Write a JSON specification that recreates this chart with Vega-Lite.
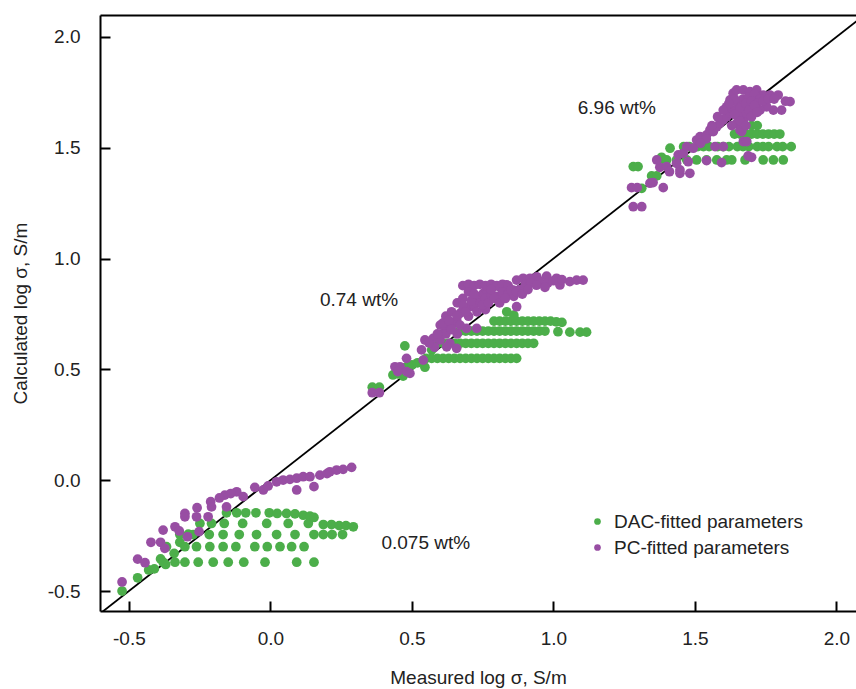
{
  "$schema": "https://vega.github.io/schema/vega-lite/v6.json",
  "width": 756,
  "height": 596,
  "autosize": {"type": "none"},
  "padding": {"left": 100, "top": 15, "right": 0, "bottom": 78},
  "background": "white",
  "config": {
    "view": {"stroke": null},
    "axis": {
      "grid": false,
      "domainColor": "black", "domainWidth": 2,
      "tickColor": "black", "tickWidth": 2, "tickSize": -10,
      "labelFont": "Liberation Sans", "labelFontSize": 19, "labelColor": "#222",
      "labelPadding": 28, "labelFlush": false,
      "titleFont": "Liberation Sans", "titleFontSize": 19, "titleFontWeight": "normal", "titleColor": "#222"
    },
    "legend": {
      "labelFont": "Liberation Sans", "labelFontSize": 19, "labelColor": "#222", "labelLimit": 0
    }
  },
  "datasets": {
    "pts": [
      {"x":-0.524,"y":-0.50,"s":"D"},{"x":-0.469,"y":-0.44,"s":"D"},{"x":-0.43,"y":-0.405,"s":"D"},{"x":-0.41,"y":-0.40,"s":"D"},{"x":-0.388,"y":-0.355,"s":"D"},{"x":-0.37,"y":-0.38,"s":"D"},{"x":-0.34,"y":-0.33,"s":"D"},{"x":-0.32,"y":-0.28,"s":"D"},{"x":-0.29,"y":-0.243,"s":"D"},
      {"x":-0.379,"y":-0.37,"s":"D"},{"x":-0.337,"y":-0.37,"s":"D"},{"x":-0.302,"y":-0.37,"s":"D"},{"x":-0.255,"y":-0.37,"s":"D"},{"x":-0.202,"y":-0.37,"s":"D"},{"x":-0.149,"y":-0.37,"s":"D"},{"x":-0.094,"y":-0.37,"s":"D"},{"x":-0.019,"y":-0.37,"s":"D"},{"x":0.093,"y":-0.37,"s":"D"},{"x":0.154,"y":-0.37,"s":"D"},
      {"x":-0.367,"y":-0.30,"s":"D"},{"x":-0.302,"y":-0.30,"s":"D"},{"x":-0.261,"y":-0.30,"s":"D"},{"x":-0.214,"y":-0.30,"s":"D"},{"x":-0.167,"y":-0.30,"s":"D"},{"x":-0.122,"y":-0.30,"s":"D"},{"x":-0.055,"y":-0.30,"s":"D"},{"x":-0.011,"y":-0.30,"s":"D"},{"x":0.034,"y":-0.30,"s":"D"},{"x":0.075,"y":-0.30,"s":"D"},{"x":0.119,"y":-0.30,"s":"D"},
      {"x":-0.32,"y":-0.245,"s":"D"},{"x":-0.273,"y":-0.245,"s":"D"},{"x":-0.216,"y":-0.245,"s":"D"},{"x":-0.167,"y":-0.245,"s":"D"},{"x":-0.110,"y":-0.245,"s":"D"},{"x":-0.049,"y":-0.245,"s":"D"},{"x":0.022,"y":-0.245,"s":"D"},{"x":0.087,"y":-0.245,"s":"D"},{"x":0.154,"y":-0.245,"s":"D"},{"x":0.187,"y":-0.245,"s":"D"},{"x":0.218,"y":-0.245,"s":"D"},{"x":0.255,"y":-0.245,"s":"D"},
      {"x":-0.249,"y":-0.195,"s":"D"},{"x":-0.208,"y":-0.195,"s":"D"},{"x":-0.163,"y":-0.195,"s":"D"},{"x":-0.098,"y":-0.195,"s":"D"},{"x":-0.013,"y":-0.195,"s":"D"},{"x":0.063,"y":-0.195,"s":"D"},{"x":0.134,"y":-0.195,"s":"D"},{"x":0.187,"y":-0.20,"s":"D"},{"x":0.216,"y":-0.20,"s":"D"},{"x":0.243,"y":-0.205,"s":"D"},{"x":0.267,"y":-0.205,"s":"D"},{"x":0.293,"y":-0.21,"s":"D"},
      {"x":-0.155,"y":-0.147,"s":"D"},{"x":-0.119,"y":-0.147,"s":"D"},{"x":-0.087,"y":-0.147,"s":"D"},{"x":-0.051,"y":-0.147,"s":"D"},{"x":-0.004,"y":-0.147,"s":"D"},{"x":0.024,"y":-0.15,"s":"D"},{"x":0.057,"y":-0.15,"s":"D"},{"x":0.087,"y":-0.152,"s":"D"},{"x":0.116,"y":-0.158,"s":"D"},{"x":0.140,"y":-0.162,"s":"D"},{"x":0.154,"y":-0.168,"s":"D"},

      {"x":0.36,"y":0.42,"s":"D"},{"x":0.385,"y":0.42,"s":"D"},{"x":0.433,"y":0.475,"s":"D"},{"x":0.469,"y":0.47,"s":"D"},{"x":0.45,"y":0.48,"s":"D"},{"x":0.475,"y":0.606,"s":"D"},{"x":0.481,"y":0.512,"s":"D"},{"x":0.54,"y":0.54,"s":"D"},{"x":0.546,"y":0.51,"s":"D"},{"x":0.57,"y":0.588,"s":"D"},{"x":0.50,"y":0.52,"s":"D"},{"x":0.52,"y":0.53,"s":"D"},
      {"x":0.55,"y":0.55,"s":"D"},{"x":0.57,"y":0.55,"s":"D"},{"x":0.59,"y":0.55,"s":"D"},{"x":0.61,"y":0.55,"s":"D"},{"x":0.63,"y":0.55,"s":"D"},{"x":0.65,"y":0.55,"s":"D"},{"x":0.67,"y":0.55,"s":"D"},{"x":0.69,"y":0.55,"s":"D"},{"x":0.71,"y":0.55,"s":"D"},{"x":0.73,"y":0.55,"s":"D"},{"x":0.75,"y":0.55,"s":"D"},{"x":0.77,"y":0.55,"s":"D"},{"x":0.79,"y":0.55,"s":"D"},{"x":0.81,"y":0.55,"s":"D"},{"x":0.83,"y":0.55,"s":"D"},{"x":0.85,"y":0.55,"s":"D"},{"x":0.87,"y":0.55,"s":"D"},
      {"x":0.57,"y":0.618,"s":"D"},{"x":0.59,"y":0.618,"s":"D"},{"x":0.61,"y":0.618,"s":"D"},{"x":0.63,"y":0.618,"s":"D"},{"x":0.65,"y":0.618,"s":"D"},{"x":0.67,"y":0.618,"s":"D"},{"x":0.69,"y":0.618,"s":"D"},{"x":0.71,"y":0.618,"s":"D"},{"x":0.73,"y":0.618,"s":"D"},{"x":0.75,"y":0.618,"s":"D"},{"x":0.77,"y":0.618,"s":"D"},{"x":0.79,"y":0.618,"s":"D"},{"x":0.81,"y":0.618,"s":"D"},{"x":0.83,"y":0.618,"s":"D"},{"x":0.85,"y":0.618,"s":"D"},{"x":0.87,"y":0.618,"s":"D"},{"x":0.89,"y":0.618,"s":"D"},{"x":0.91,"y":0.618,"s":"D"},{"x":0.93,"y":0.618,"s":"D"},
      {"x":0.67,"y":0.673,"s":"D"},{"x":0.69,"y":0.673,"s":"D"},{"x":0.71,"y":0.673,"s":"D"},{"x":0.73,"y":0.673,"s":"D"},{"x":0.75,"y":0.673,"s":"D"},{"x":0.77,"y":0.673,"s":"D"},{"x":0.79,"y":0.673,"s":"D"},{"x":0.81,"y":0.673,"s":"D"},{"x":0.83,"y":0.673,"s":"D"},{"x":0.85,"y":0.673,"s":"D"},{"x":0.87,"y":0.673,"s":"D"},{"x":0.89,"y":0.673,"s":"D"},{"x":0.91,"y":0.673,"s":"D"},{"x":0.93,"y":0.673,"s":"D"},{"x":0.95,"y":0.673,"s":"D"},{"x":0.97,"y":0.673,"s":"D"},{"x":1.016,"y":0.67,"s":"D"},{"x":1.058,"y":0.668,"s":"D"},{"x":1.094,"y":0.668,"s":"D"},{"x":1.117,"y":0.668,"s":"D"},
      {"x":0.79,"y":0.718,"s":"D"},{"x":0.81,"y":0.718,"s":"D"},{"x":0.83,"y":0.718,"s":"D"},{"x":0.85,"y":0.718,"s":"D"},{"x":0.87,"y":0.718,"s":"D"},{"x":0.89,"y":0.718,"s":"D"},{"x":0.91,"y":0.718,"s":"D"},{"x":0.93,"y":0.718,"s":"D"},{"x":0.95,"y":0.718,"s":"D"},{"x":0.97,"y":0.718,"s":"D"},{"x":0.99,"y":0.718,"s":"D"},{"x":1.01,"y":0.715,"s":"D"},{"x":1.03,"y":0.712,"s":"D"},
      {"x":0.835,"y":0.76,"s":"D"},{"x":0.86,"y":0.745,"s":"D"},

      {"x":1.282,"y":1.415,"s":"D"},{"x":1.299,"y":1.415,"s":"D"},{"x":1.347,"y":1.373,"s":"D"},{"x":1.365,"y":1.373,"s":"D"},{"x":1.312,"y":1.317,"s":"D"},{"x":1.412,"y":1.498,"s":"D"},{"x":1.382,"y":1.457,"s":"D"},
      {"x":1.376,"y":1.445,"s":"D"},{"x":1.40,"y":1.445,"s":"D"},{"x":1.435,"y":1.445,"s":"D"},{"x":1.471,"y":1.445,"s":"D"},{"x":1.506,"y":1.445,"s":"D"},{"x":1.541,"y":1.445,"s":"D"},{"x":1.577,"y":1.445,"s":"D"},{"x":1.612,"y":1.445,"s":"D"},{"x":1.63,"y":1.445,"s":"D"},{"x":1.677,"y":1.445,"s":"D"},{"x":1.741,"y":1.445,"s":"D"},{"x":1.777,"y":1.445,"s":"D"},{"x":1.812,"y":1.445,"s":"D"},
      {"x":1.46,"y":1.505,"s":"D"},{"x":1.48,"y":1.505,"s":"D"},{"x":1.51,"y":1.505,"s":"D"},{"x":1.53,"y":1.505,"s":"D"},{"x":1.55,"y":1.505,"s":"D"},{"x":1.58,"y":1.505,"s":"D"},{"x":1.60,"y":1.505,"s":"D"},{"x":1.62,"y":1.505,"s":"D"},{"x":1.65,"y":1.505,"s":"D"},{"x":1.67,"y":1.505,"s":"D"},{"x":1.69,"y":1.505,"s":"D"},{"x":1.72,"y":1.505,"s":"D"},{"x":1.74,"y":1.505,"s":"D"},{"x":1.76,"y":1.505,"s":"D"},{"x":1.79,"y":1.505,"s":"D"},{"x":1.81,"y":1.505,"s":"D"},{"x":1.84,"y":1.505,"s":"D"},
      {"x":1.64,"y":1.562,"s":"D"},{"x":1.66,"y":1.562,"s":"D"},{"x":1.68,"y":1.562,"s":"D"},{"x":1.70,"y":1.562,"s":"D"},{"x":1.72,"y":1.562,"s":"D"},{"x":1.74,"y":1.562,"s":"D"},{"x":1.76,"y":1.562,"s":"D"},{"x":1.78,"y":1.562,"s":"D"},{"x":1.80,"y":1.562,"s":"D"},
      {"x":1.70,"y":1.60,"s":"D"},{"x":1.72,"y":1.60,"s":"D"},

      {"x":-0.524,"y":-0.459,"s":"P"},{"x":-0.469,"y":-0.356,"s":"P"},{"x":-0.443,"y":-0.372,"s":"P"},{"x":-0.422,"y":-0.28,"s":"P"},{"x":-0.388,"y":-0.28,"s":"P"},{"x":-0.373,"y":-0.307,"s":"P"},{"x":-0.379,"y":-0.225,"s":"P"},{"x":-0.337,"y":-0.21,"s":"P"},{"x":-0.322,"y":-0.229,"s":"P"},{"x":-0.302,"y":-0.15,"s":"P"},{"x":-0.302,"y":-0.165,"s":"P"},{"x":-0.293,"y":-0.255,"s":"P"},{"x":-0.259,"y":-0.124,"s":"P"},{"x":-0.261,"y":-0.165,"s":"P"},{"x":-0.252,"y":-0.232,"s":"P"},{"x":-0.211,"y":-0.097,"s":"P"},{"x":-0.220,"y":-0.165,"s":"P"},{"x":-0.208,"y":-0.12,"s":"P"},{"x":-0.161,"y":-0.067,"s":"P"},{"x":-0.155,"y":-0.12,"s":"P"},{"x":-0.119,"y":-0.052,"s":"P"},{"x":-0.096,"y":-0.074,"s":"P"},{"x":-0.18,"y":-0.08,"s":"P"},{"x":-0.14,"y":-0.06,"s":"P"},{"x":-0.055,"y":-0.032,"s":"P"},{"x":-0.025,"y":-0.044,"s":"P"},{"x":-0.008,"y":-0.026,"s":"P"},{"x":0.022,"y":-0.007,"s":"P"},{"x":0.045,"y":0.001,"s":"P"},{"x":0.069,"y":0.004,"s":"P"},{"x":0.093,"y":0.009,"s":"P"},{"x":0.093,"y":-0.044,"s":"P"},{"x":0.116,"y":0.016,"s":"P"},{"x":0.140,"y":0.016,"s":"P"},{"x":0.154,"y":-0.029,"s":"P"},{"x":0.175,"y":0.023,"s":"P"},{"x":0.20,"y":0.03,"s":"P"},{"x":0.210,"y":0.038,"s":"P"},{"x":0.234,"y":0.046,"s":"P"},{"x":0.257,"y":0.049,"s":"P"},{"x":0.287,"y":0.058,"s":"P"},

      {"x":0.36,"y":0.395,"s":"P"},{"x":0.385,"y":0.395,"s":"P"},{"x":0.44,"y":0.512,"s":"P"},{"x":0.458,"y":0.512,"s":"P"},{"x":0.481,"y":0.49,"s":"P"},{"x":0.493,"y":0.482,"s":"P"},{"x":0.45,"y":0.49,"s":"P"},{"x":0.481,"y":0.55,"s":"P"},{"x":0.534,"y":0.588,"s":"P"},{"x":0.546,"y":0.633,"s":"P"},{"x":0.54,"y":0.542,"s":"P"},
      {"x":0.575,"y":0.640,"s":"P"},{"x":0.599,"y":0.633,"s":"P"},{"x":0.611,"y":0.663,"s":"P"},{"x":0.623,"y":0.693,"s":"P"},{"x":0.634,"y":0.618,"s":"P"},{"x":0.646,"y":0.708,"s":"P"},{"x":0.658,"y":0.723,"s":"P"},{"x":0.670,"y":0.753,"s":"P"},{"x":0.681,"y":0.768,"s":"P"},{"x":0.705,"y":0.783,"s":"P"},{"x":0.717,"y":0.813,"s":"P"},{"x":0.740,"y":0.828,"s":"P"},{"x":0.752,"y":0.843,"s":"P"},{"x":0.764,"y":0.858,"s":"P"},{"x":0.787,"y":0.873,"s":"P"},{"x":0.811,"y":0.873,"s":"P"},{"x":0.835,"y":0.881,"s":"P"},{"x":0.858,"y":0.858,"s":"P"},{"x":0.870,"y":0.903,"s":"P"},{"x":0.893,"y":0.911,"s":"P"},{"x":0.917,"y":0.911,"s":"P"},{"x":0.941,"y":0.918,"s":"P"},{"x":0.976,"y":0.921,"s":"P"},{"x":1.011,"y":0.911,"s":"P"},{"x":1.023,"y":0.881,"s":"P"},{"x":1.058,"y":0.896,"s":"P"},{"x":1.082,"y":0.903,"s":"P"},{"x":1.105,"y":0.903,"s":"P"},
      {"x":0.68,"y":0.878,"s":"P"},{"x":0.70,"y":0.884,"s":"P"},{"x":0.72,"y":0.878,"s":"P"},{"x":0.74,"y":0.884,"s":"P"},{"x":0.76,"y":0.878,"s":"P"},{"x":0.78,"y":0.884,"s":"P"},{"x":0.80,"y":0.878,"s":"P"},{"x":0.82,"y":0.884,"s":"P"},{"x":0.84,"y":0.878,"s":"P"},
      {"x":0.60,"y":0.70,"s":"P"},{"x":0.62,"y":0.74,"s":"P"},{"x":0.64,"y":0.76,"s":"P"},{"x":0.66,"y":0.80,"s":"P"},{"x":0.68,"y":0.82,"s":"P"},{"x":0.70,"y":0.85,"s":"P"},{"x":0.72,"y":0.79,"s":"P"},{"x":0.74,"y":0.80,"s":"P"},{"x":0.76,"y":0.82,"s":"P"},{"x":0.78,"y":0.84,"s":"P"},{"x":0.80,"y":0.83,"s":"P"},{"x":0.82,"y":0.85,"s":"P"},{"x":0.84,"y":0.84,"s":"P"},{"x":0.86,"y":0.83,"s":"P"},{"x":0.88,"y":0.86,"s":"P"},{"x":0.90,"y":0.88,"s":"P"},{"x":0.92,"y":0.89,"s":"P"},{"x":0.95,"y":0.90,"s":"P"},{"x":0.98,"y":0.89,"s":"P"},{"x":1.00,"y":0.90,"s":"P"},{"x":1.03,"y":0.905,"s":"P"},
      {"x":0.693,"y":0.685,"s":"P"},{"x":0.729,"y":0.685,"s":"P"},{"x":0.623,"y":0.602,"s":"P"},{"x":0.658,"y":0.595,"s":"P"},{"x":0.87,"y":0.783,"s":"P"},{"x":0.70,"y":0.74,"s":"P"},{"x":0.76,"y":0.77,"s":"P"},{"x":0.66,"y":0.66,"s":"P"},{"x":0.58,"y":0.60,"s":"P"},{"x":0.62,"y":0.66,"s":"P"},
      {"x":0.56,"y":0.62,"s":"P"},{"x":0.59,"y":0.66,"s":"P"},{"x":0.61,"y":0.71,"s":"P"},{"x":0.63,"y":0.72,"s":"P"},{"x":0.64,"y":0.68,"s":"P"},{"x":0.66,"y":0.74,"s":"P"},{"x":0.67,"y":0.70,"s":"P"},{"x":0.68,"y":0.79,"s":"P"},{"x":0.69,"y":0.76,"s":"P"},{"x":0.71,"y":0.81,"s":"P"},{"x":0.72,"y":0.84,"s":"P"},{"x":0.73,"y":0.76,"s":"P"},{"x":0.75,"y":0.79,"s":"P"},{"x":0.77,"y":0.80,"s":"P"},{"x":0.78,"y":0.86,"s":"P"},{"x":0.79,"y":0.82,"s":"P"},{"x":0.81,"y":0.80,"s":"P"},{"x":0.83,"y":0.82,"s":"P"},{"x":0.85,"y":0.86,"s":"P"},{"x":0.87,"y":0.85,"s":"P"},{"x":0.89,"y":0.84,"s":"P"},{"x":0.91,"y":0.86,"s":"P"},{"x":0.94,"y":0.88,"s":"P"},{"x":0.97,"y":0.87,"s":"P"},

      {"x":1.282,"y":1.234,"s":"P"},{"x":1.312,"y":1.234,"s":"P"},{"x":1.276,"y":1.32,"s":"P"},{"x":1.296,"y":1.32,"s":"P"},{"x":1.341,"y":1.34,"s":"P"},{"x":1.352,"y":1.343,"s":"P"},{"x":1.388,"y":1.32,"s":"P"},{"x":1.376,"y":1.412,"s":"P"},{"x":1.40,"y":1.415,"s":"P"},{"x":1.41,"y":1.392,"s":"P"},{"x":1.447,"y":1.385,"s":"P"},{"x":1.482,"y":1.385,"s":"P"},{"x":1.365,"y":1.445,"s":"P"},{"x":1.447,"y":1.40,"s":"P"},{"x":1.435,"y":1.43,"s":"P"},{"x":1.476,"y":1.437,"s":"P"},
      {"x":1.441,"y":1.468,"s":"P"},{"x":1.459,"y":1.475,"s":"P"},{"x":1.471,"y":1.505,"s":"P"},{"x":1.494,"y":1.498,"s":"P"},{"x":1.506,"y":1.535,"s":"P"},{"x":1.518,"y":1.55,"s":"P"},{"x":1.541,"y":1.558,"s":"P"},{"x":1.553,"y":1.58,"s":"P"},{"x":1.565,"y":1.573,"s":"P"},{"x":1.577,"y":1.595,"s":"P"},{"x":1.588,"y":1.61,"s":"P"},{"x":1.60,"y":1.625,"s":"P"},{"x":1.612,"y":1.64,"s":"P"},{"x":1.624,"y":1.656,"s":"P"},{"x":1.635,"y":1.67,"s":"P"},{"x":1.612,"y":1.685,"s":"P"},{"x":1.624,"y":1.716,"s":"P"},{"x":1.635,"y":1.746,"s":"P"},{"x":1.647,"y":1.761,"s":"P"},{"x":1.671,"y":1.761,"s":"P"},{"x":1.694,"y":1.753,"s":"P"},{"x":1.718,"y":1.761,"s":"P"},
      {"x":1.741,"y":1.738,"s":"P"},{"x":1.765,"y":1.738,"s":"P"},{"x":1.794,"y":1.738,"s":"P"},{"x":1.836,"y":1.708,"s":"P"},{"x":1.806,"y":1.67,"s":"P"},{"x":1.777,"y":1.67,"s":"P"},{"x":1.753,"y":1.685,"s":"P"},{"x":1.73,"y":1.67,"s":"P"},{"x":1.706,"y":1.656,"s":"P"},{"x":1.671,"y":1.625,"s":"P"},{"x":1.647,"y":1.61,"s":"P"},{"x":1.659,"y":1.64,"s":"P"},{"x":1.683,"y":1.656,"s":"P"},{"x":1.659,"y":1.58,"s":"P"},{"x":1.665,"y":1.573,"s":"P"},{"x":1.671,"y":1.528,"s":"P"},{"x":1.683,"y":1.528,"s":"P"},{"x":1.688,"y":1.463,"s":"P"},{"x":1.70,"y":1.457,"s":"P"},{"x":1.541,"y":1.442,"s":"P"},{"x":1.594,"y":1.433,"s":"P"},{"x":1.571,"y":1.505,"s":"P"},{"x":1.60,"y":1.505,"s":"P"},
      {"x":1.65,"y":1.70,"s":"P"},{"x":1.67,"y":1.72,"s":"P"},{"x":1.69,"y":1.73,"s":"P"},{"x":1.71,"y":1.74,"s":"P"},{"x":1.73,"y":1.72,"s":"P"},{"x":1.66,"y":1.68,"s":"P"},{"x":1.68,"y":1.70,"s":"P"},{"x":1.70,"y":1.71,"s":"P"},{"x":1.72,"y":1.70,"s":"P"},{"x":1.74,"y":1.71,"s":"P"},{"x":1.64,"y":1.72,"s":"P"},{"x":1.62,"y":1.70,"s":"P"},{"x":1.60,"y":1.67,"s":"P"},{"x":1.58,"y":1.64,"s":"P"},{"x":1.69,"y":1.67,"s":"P"},{"x":1.71,"y":1.69,"s":"P"},{"x":1.76,"y":1.72,"s":"P"},{"x":1.78,"y":1.72,"s":"P"},{"x":1.82,"y":1.71,"s":"P"},{"x":1.64,"y":1.65,"s":"P"},{"x":1.66,"y":1.62,"s":"P"},{"x":1.70,"y":1.64,"s":"P"},{"x":1.72,"y":1.66,"s":"P"},{"x":1.68,"y":1.60,"s":"P"},{"x":1.63,"y":1.60,"s":"P"},{"x":1.56,"y":1.60,"s":"P"},{"x":1.54,"y":1.54,"s":"P"},{"x":1.52,"y":1.52,"s":"P"}
    ],
    "diag": [{"x":-0.7,"y":-0.7},{"x":2.2,"y":2.2}],
    "notes": [
      {"x":1.224,"y":1.68,"t":"6.96 wt%"},
      {"x":0.313,"y":0.813,"t":"0.74 wt%"},
      {"x":0.549,"y":-0.283,"t":"0.075 wt%"}
    ]
  },
  "resolve": {"axis": {"x": "independent"}},
  "layer": [
    {
      "data": {"name": "diag"},
      "mark": {"type": "line", "color": "black", "strokeWidth": 1.8, "clip": true},
      "encoding": {
        "x": {"field": "x", "type": "quantitative",
          "scale": {"domain": [-0.602, 2.069], "nice": false, "zero": false},
          "axis": {"orient": "top", "labels": false, "ticks": false, "title": null, "domain": true}},
        "y": {"field": "y", "type": "quantitative",
          "scale": {"domain": [-0.59, 2.099], "nice": false, "zero": false},
          "axis": {"values": [-0.5, 0, 0.5, 1, 1.5, 2], "labelPadding": 30,
            "labelExpr": "datum.value < 0 ? '-' + format(-datum.value, '.1f') : format(datum.value, '.1f')",
            "title": "Calculated log σ, S/m", "titlePadding": 17}}
      }
    },
    {
      "data": {"name": "pts"},
      "mark": {"type": "point", "filled": true, "opacity": 1, "size": 95, "shape": "circle", "clip": true},
      "encoding": {
        "x": {"field": "x", "type": "quantitative",
          "axis": {"orient": "bottom", "values": [-0.5, 0, 0.5, 1, 1.5, 2],
            "labelExpr": "datum.value < 0 ? '-' + format(-datum.value, '.1f') : format(datum.value, '.1f')",
            "title": "Measured log σ, S/m", "titlePadding": 20}},
        "y": {"field": "y", "type": "quantitative"},
        "color": {"field": "s", "type": "nominal",
          "scale": {"domain": ["D", "P"], "range": ["#4cae4a", "#984ea3"]},
          "legend": {"orient": "none", "legendX": 488, "legendY": 497, "title": null,
            "symbolType": "circle", "symbolSize": 45, "rowPadding": 6, "labelOffset": 7,
            "labelExpr": "datum.label == 'D' ? 'DAC-fitted parameters' : 'PC-fitted parameters'"}}
      }
    },
    {
      "data": {"name": "notes"},
      "mark": {"type": "text", "font": "Liberation Sans", "fontSize": 19, "color": "#222", "align": "center", "baseline": "middle"},
      "encoding": {
        "x": {"field": "x", "type": "quantitative", "axis": null},
        "y": {"field": "y", "type": "quantitative"},
        "text": {"field": "t"}
      }
    }
  ]
}
